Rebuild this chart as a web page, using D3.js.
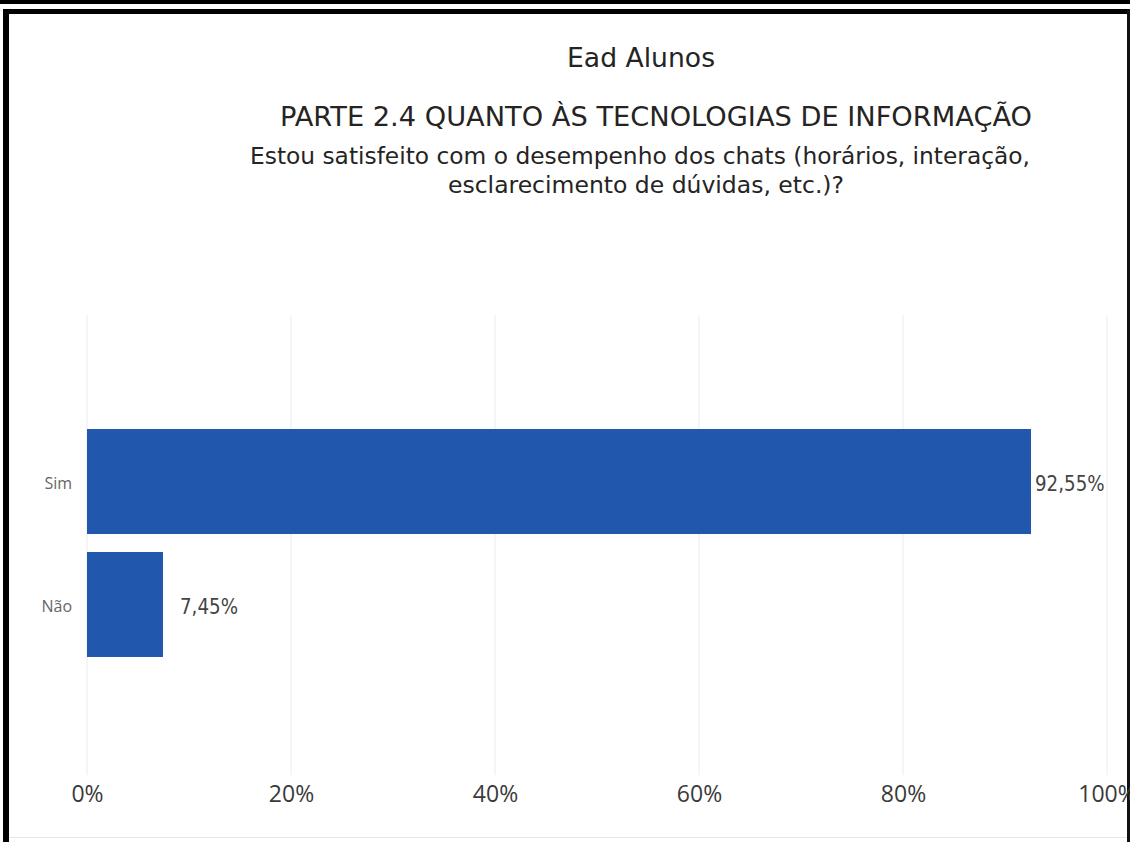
<!DOCTYPE html>
<html><head><meta charset="utf-8">
<script src="https://cdn.jsdelivr.net/npm/d3@7"></script>
<style>body{margin:0;background:#fff;}svg{display:block;}</style>
</head><body>
<svg id="c" width="1130" height="842"></svg>
<script>
const categories = ["Sim", "Não"];
const values = [92.55, 7.45];
const valueLabels = ["92,55%", "7,45%"];
const tickValues = [0, 20, 40, 60, 80, 100];
const tickLabels = ["0%", "20%", "40%", "60%", "80%", "100%"];
const title1 = "Ead Alunos";
const title2 = "PARTE 2.4 QUANTO ÀS TECNOLOGIAS DE INFORMAÇÃO";
const subtitle = ["Estou satisfeito com o desempenho dos chats (horários, interação,", "esclarecimento de dúvidas, etc.)?"];

const svg = d3.select("#c");
// frame
svg.append("rect").attr("x",0).attr("y",0).attr("width",1130).attr("height",842).attr("fill","#fff");
svg.append("rect").attr("x",0).attr("y",0).attr("width",1130).attr("height",4).attr("fill","#000");
svg.append("rect").attr("x",3).attr("y",9).attr("width",1127).attr("height",5).attr("fill","#000");
svg.append("rect").attr("x",3).attr("y",9).attr("width",6).attr("height",833).attr("fill","#000");
svg.append("rect").attr("x",1127).attr("y",9).attr("width",3).attr("height",833).attr("fill","#111");
svg.append("rect").attr("x",9).attr("y",837).attr("width",1118).attr("height",1).attr("fill","#e6e6e6");

const titleFont = "'DejaVu Sans', sans-serif";
function condensed(sel, len){ return sel.attr("textLength",len).attr("lengthAdjust","spacingAndGlyphs"); }

condensed(svg.append("text").attr("x",641).attr("y",67).attr("text-anchor","middle")
  .attr("font-family",titleFont).attr("font-size",27).attr("fill","#252423").text(title1), 148);
condensed(svg.append("text").attr("x",656).attr("y",126).attr("text-anchor","middle")
  .attr("font-family",titleFont).attr("font-size",27).attr("fill","#252423").text(title2), 752);
const subX = [640, 646], subLen = [780, 396];
subtitle.forEach((s,i)=>{
  condensed(svg.append("text").attr("x", subX[i]).attr("y",164+i*29).attr("text-anchor","middle")
    .attr("font-family",titleFont).attr("font-size",23).attr("fill","#252423").text(s), subLen[i]);
});

const x = d3.scaleLinear().domain([0,100]).range([87,1107]);
const y = d3.scaleBand().domain(categories).range([429,657]).paddingInner(0.146).paddingOuter(0);

// gridlines
svg.append("g").selectAll("line").data(tickValues).join("line")
  .attr("x1",d=>x(d)).attr("x2",d=>x(d)).attr("y1",315).attr("y2",775)
  .attr("stroke","#ececec").attr("stroke-width",1);

const axis = d3.axisBottom(x).tickValues(tickValues).tickFormat((d,i)=>tickLabels[i]).tickSize(0).tickPadding(0);
const ax = svg.append("g").attr("transform","translate(0,802)").call(axis);
ax.select(".domain").remove();
ax.selectAll("text").attr("font-family","'Open Sans', sans-serif").attr("font-size",23).attr("fill","#3a3a3a").attr("dy",0).attr("y",0);

svg.append("g").selectAll("rect").data(values).join("rect")
  .attr("x",x(0)).attr("y",(d,i)=>y(categories[i]))
  .attr("width",d=>x(d)-x(0)).attr("height",y.bandwidth())
  .attr("fill","#2158ad");

const ya = d3.axisLeft(y).tickSize(0).tickPadding(0);
const yg = svg.append("g").attr("transform","translate(72,2)").call(ya);
yg.select(".domain").remove();
yg.selectAll("text").attr("font-family","'Open Sans', sans-serif").attr("font-size",16).attr("fill","#666");

svg.append("g").selectAll("text").data(values).join("text")
  .attr("x",d=>x(d) + (d < 50 ? 17 : 4)).attr("y",(d,i)=>y(categories[i])+y.bandwidth()/2 + 2)
  .attr("dy","0.35em").attr("font-family",titleFont).attr("font-size",22).attr("fill","#444")
  .attr("textLength",(d,i)=>valueLabels[i].length*11.6).attr("lengthAdjust","spacingAndGlyphs")
  .text((d,i)=>valueLabels[i]);
</script>
</body></html>
